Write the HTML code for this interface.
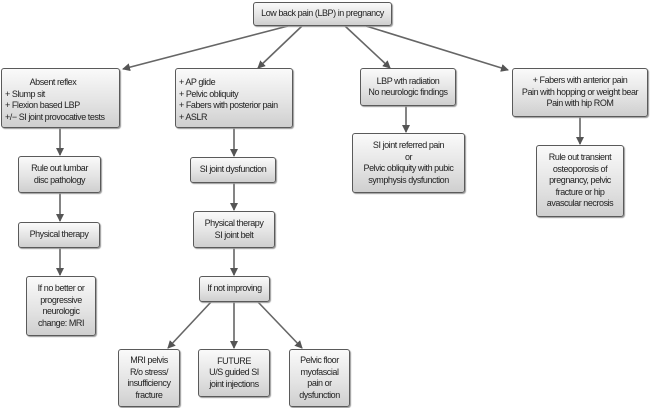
<!DOCTYPE html>
<html><head><style>
body{margin:0;width:650px;height:408px;background:#fff;position:relative;overflow:hidden;font-family:"Liberation Sans",sans-serif;}
.b{position:absolute;box-sizing:border-box;border:1.5px solid #5a5a5a;border-radius:3px;background:linear-gradient(#fafafa,#e2e2e2 60%,#cfcfcf);box-shadow:1px 1px 1px #999;display:flex;align-items:center;justify-content:center;text-align:center;font-size:9px;line-height:11.5px;color:#222;letter-spacing:-0.45px;white-space:nowrap}
svg{position:absolute;left:0;top:0}
</style></head><body>
<svg width="650" height="408"><defs><marker id="a" markerWidth="8" markerHeight="8" refX="7" refY="4" orient="auto" markerUnits="userSpaceOnUse"><path d="M0,0L8,4L0,8z" fill="#555"/></marker></defs>
<g stroke="#666" stroke-width="1.6" fill="none" marker-end="url(#a)">
<line x1="288" y1="26" x2="123" y2="69"/>
<line x1="302" y1="26" x2="258" y2="68"/>
<line x1="345" y1="26" x2="390" y2="68"/>
<line x1="366" y1="26" x2="508" y2="70"/>
<line x1="60" y1="128" x2="60" y2="155"/>
<line x1="60" y1="193" x2="60" y2="221"/>
<line x1="60" y1="248" x2="60" y2="275"/>
<line x1="234" y1="128" x2="234" y2="156"/>
<line x1="234" y1="183" x2="234" y2="210"/>
<line x1="234" y1="248" x2="234" y2="275"/>
<line x1="406" y1="106" x2="406" y2="132"/>
<line x1="580" y1="117" x2="580" y2="144"/>
<line x1="211" y1="302" x2="168" y2="348"/>
<line x1="234" y1="302" x2="234" y2="348"/>
<line x1="258" y1="302" x2="302" y2="348"/>
</g></svg>
<div class="b" style="left:253px;top:2px;width:139px;height:24px">Low back pain (LBP) in pregnancy</div>
<div class="b" style="left:1px;top:68px;width:119px;height:60px;display:block;text-align:left;padding:8px 0 0 3px">&nbsp;&nbsp;&nbsp;&nbsp;&nbsp;&nbsp;&nbsp;&nbsp;&nbsp;&nbsp;&nbsp;&nbsp;Absent reflex<br>+ Slump sit<br>+ Flexion based LBP<br>+/− SI joint provocative tests</div>
<div class="b" style="left:175px;top:68px;width:118px;height:60px;display:block;text-align:left;padding:8px 0 0 3px">+ AP glide<br>+ Pelvic obliquity<br>+ Fabers with posterior pain<br>+ ASLR</div>
<div class="b" style="left:360px;top:68px;width:96px;height:38px">LBP wth radiation<br>No neurologic findings</div>
<div class="b" style="left:512px;top:68px;width:136px;height:49px">+ Fabers with anterior pain<br>Pain with hopping or weight bear<br>Pain with hip ROM</div>
<div class="b" style="left:352px;top:133px;width:113px;height:60px">SI joint referred pain<br>or<br>Pelvic obliquity with pubic<br>symphysis dysfunction</div>
<div class="b" style="left:536px;top:145px;width:88px;height:72px">Rule out transient<br>osteoporosis of<br>pregnancy, pelvic<br>fracture or hip<br>avascular necrosis</div>
<div class="b" style="left:18px;top:156px;width:83px;height:37px">Rule out lumbar<br>disc pathology</div>
<div class="b" style="left:18px;top:222px;width:82px;height:26px">Physical therapy</div>
<div class="b" style="left:26px;top:276px;width:70px;height:60px">If no better or<br>progressive<br>neurologic<br>change: MRI</div>
<div class="b" style="left:190px;top:157px;width:86px;height:26px">SI joint dysfunction</div>
<div class="b" style="left:193px;top:211px;width:82px;height:37px">Physical therapy<br>SI joint belt</div>
<div class="b" style="left:199px;top:276px;width:71px;height:26px">If not improving</div>
<div class="b" style="left:118px;top:349px;width:62px;height:58px">MRI pelvis<br>R/o stress/<br>insufficiency<br>fracture</div>
<div class="b" style="left:198px;top:349px;width:72px;height:48px">FUTURE<br>U/S guided SI<br>joint injections</div>
<div class="b" style="left:289px;top:349px;width:61px;height:58px">Pelvic floor<br>myofascial<br>pain or<br>dysfunction</div>
</body></html>
